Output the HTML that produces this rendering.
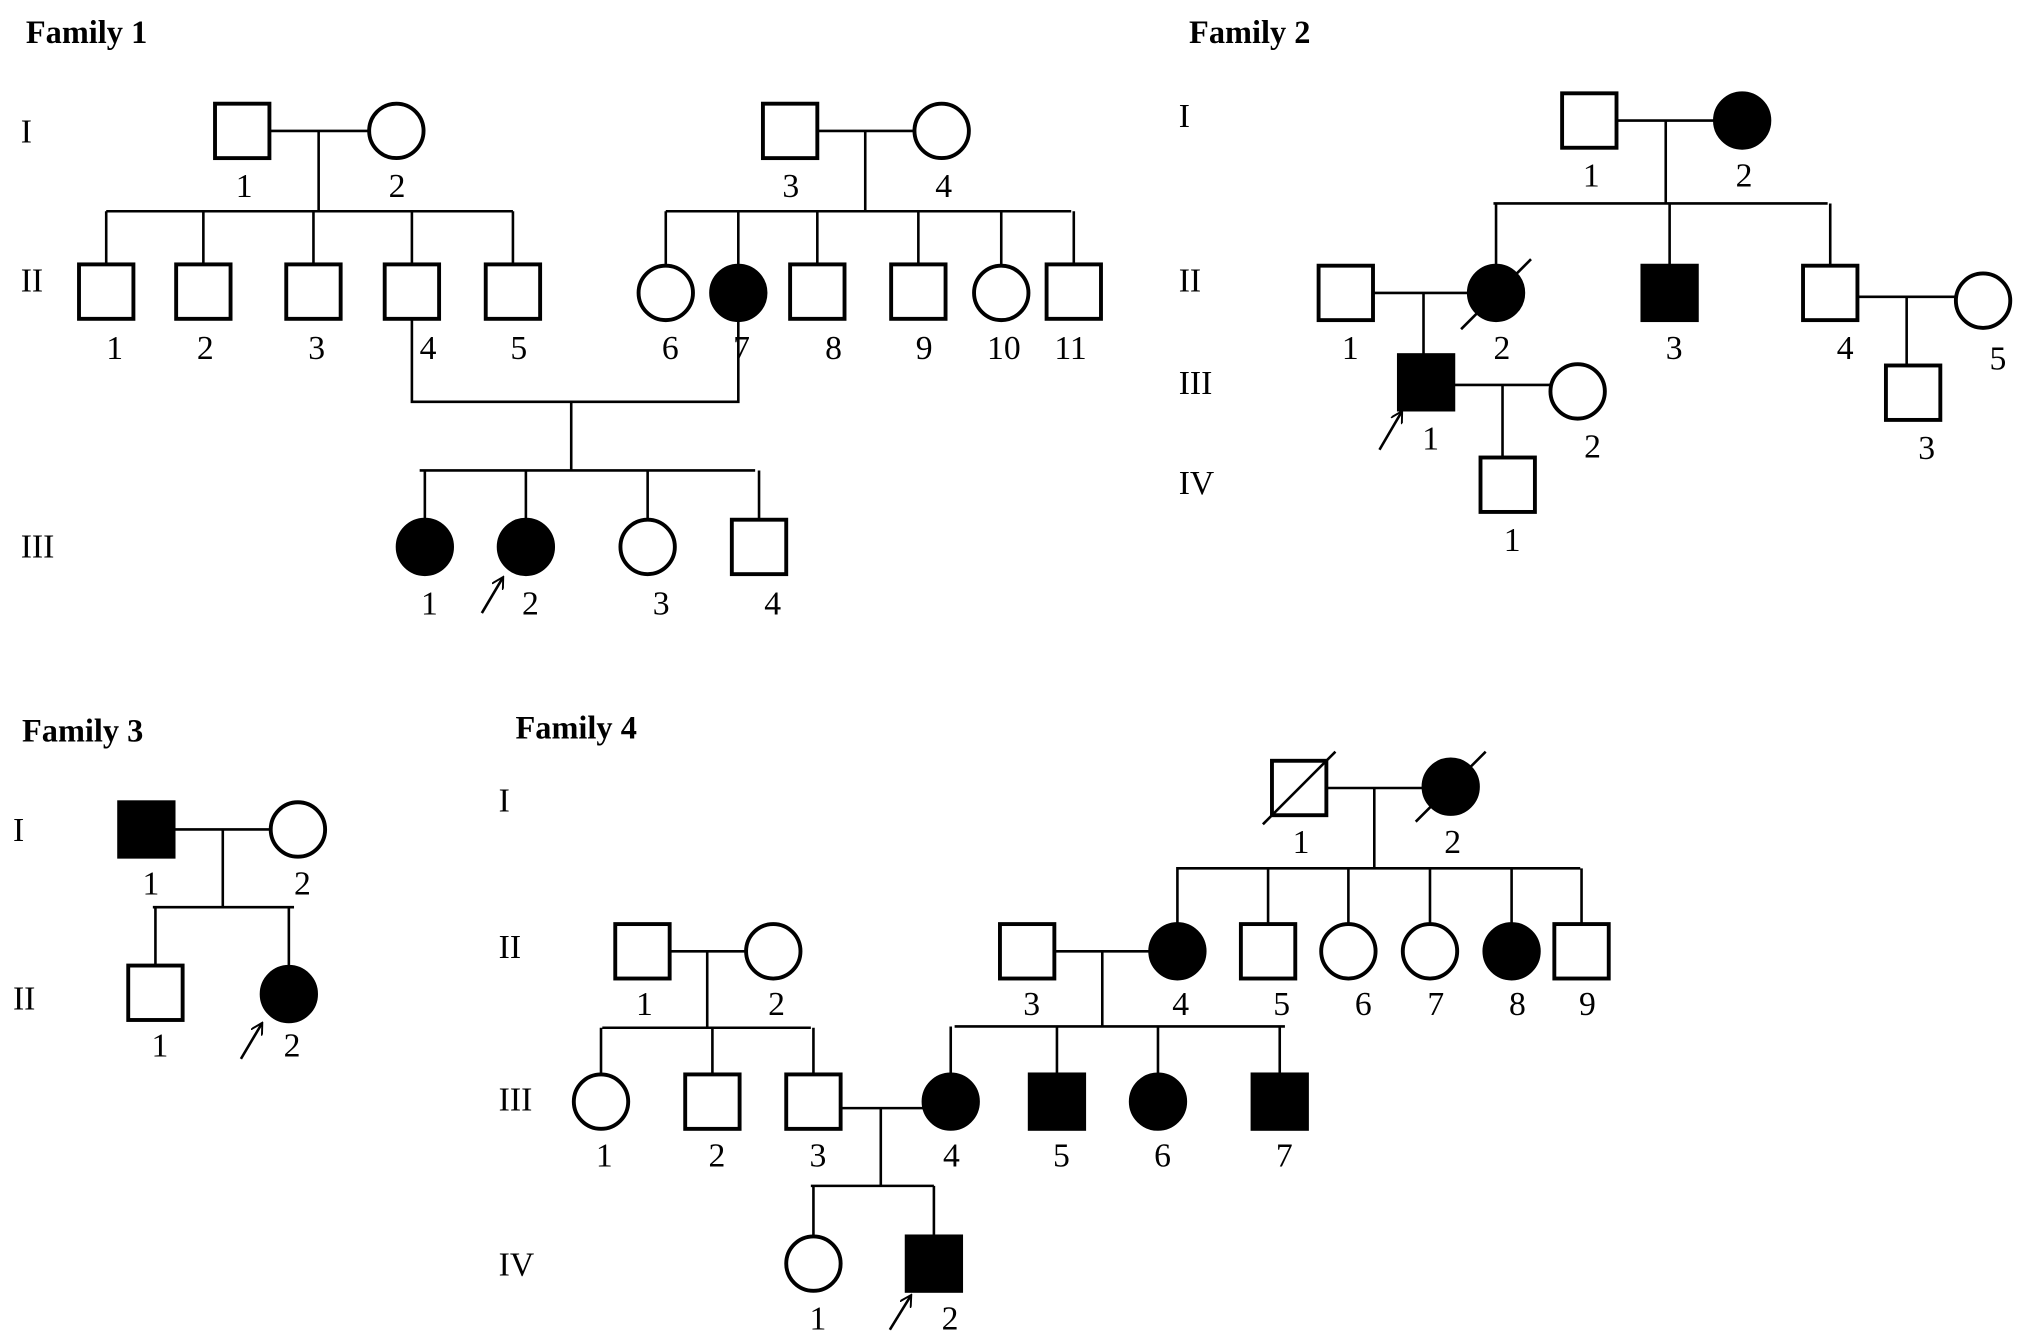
<!DOCTYPE html>
<html><head><meta charset="utf-8"><style>
html,body{margin:0;padding:0;background:#fff}
svg{display:block}
text{font-family:"Liberation Serif",serif;font-size:26px;fill:#000}
.t{font-weight:bold;font-size:25px}
.s{fill:#fff;stroke:#000;stroke-width:3}
.f{fill:#000;stroke:#000;stroke-width:3}
.l{stroke:#000;stroke-width:2;fill:none}
</style></head><body>
<svg width="2031" height="1344" viewBox="0 0 1568 1037" preserveAspectRatio="none" xmlns="http://www.w3.org/2000/svg">
<defs><marker id="a" markerWidth="10" markerHeight="10" refX="8" refY="5" orient="auto" markerUnits="userSpaceOnUse"><path d="M0,0 L9,5 L0,10" fill="none" stroke="#000" stroke-width="1.5"/></marker></defs>

<!-- Family 1 -->
<text class="t" x="20" y="33">Family 1</text>
<text x="16" y="110">I</text><text x="16" y="225">II</text><text x="16" y="430">III</text>
<path class="l" d="M208,101H285 M246,101V163 M82,163H396 M82,163V204 M157,163V204 M242,163V204 M318,163V204 M396,163V204"/>
<rect class="s" x="166" y="80" width="42" height="42"/><circle class="s" cx="306" cy="101" r="21"/>
<text x="182" y="152">1</text><text x="300" y="152">2</text>
<path class="l" d="M631,101H706 M668,101V163 M514,163H827 M514,163V205 M570,163V205 M631,163V204 M709,163V204 M773,163V205 M829,163V204"/>
<rect class="s" x="589" y="80" width="42" height="42"/><circle class="s" cx="727" cy="101" r="21"/>
<text x="604" y="152">3</text><text x="722" y="152">4</text>
<rect class="s" x="61" y="204" width="42" height="42"/><rect class="s" x="136" y="204" width="42" height="42"/>
<rect class="s" x="221" y="204" width="42" height="42"/><rect class="s" x="297" y="204" width="42" height="42"/>
<rect class="s" x="375" y="204" width="42" height="42"/>
<circle class="s" cx="514" cy="226" r="21"/><circle class="f" cx="570" cy="226" r="21"/>
<rect class="s" x="610" y="204" width="42" height="42"/><rect class="s" x="688" y="204" width="42" height="42"/>
<circle class="s" cx="773" cy="226" r="21"/><rect class="s" x="808" y="204" width="42" height="42"/>
<text x="82" y="277">1</text><text x="152" y="277">2</text><text x="238" y="277">3</text><text x="324" y="277">4</text><text x="394" y="277">5</text>
<text x="511" y="277">6</text><text x="566" y="277">7</text><text x="637" y="277">8</text><text x="707" y="277">9</text><text x="762" y="277">10</text><text x="814" y="277">11</text>
<path class="l" d="M318,246V310H570V247 M441,310V363 M324,363H583 M328,363V401 M406,363V401 M500,363V401 M586,363V401"/>
<circle class="f" cx="328" cy="422" r="21"/><circle class="f" cx="406" cy="422" r="21"/>
<circle class="s" cx="500" cy="422" r="21"/><rect class="s" x="565" y="401" width="42" height="42"/>
<text x="325" y="474">1</text><text x="403" y="474">2</text><text x="504" y="474">3</text><text x="590" y="474">4</text>
<line class="l" x1="372" y1="473" x2="388" y2="446" marker-end="url(#a)"/>

<!-- Family 2 -->
<text class="t" x="918" y="33">Family 2</text>
<text x="910" y="98">I</text><text x="910" y="225">II</text><text x="910" y="304">III</text><text x="910" y="381">IV</text>
<path class="l" d="M1248,93H1324 M1286,93V157 M1153,157H1411 M1155,157V205 M1289,157V205 M1413,157V205"/>
<rect class="s" x="1206" y="72" width="42" height="42"/><circle class="f" cx="1345" cy="93" r="21"/>
<text x="1222" y="144">1</text><text x="1340" y="144">2</text>
<path class="l" d="M1060,226H1134 M1099,226V274 M1434,229H1510 M1472,229V281"/>
<rect class="s" x="1018" y="205" width="42" height="42"/><circle class="f" cx="1155" cy="226" r="21"/>
<line class="l" x1="1128" y1="254" x2="1182" y2="200"/>
<rect class="f" x="1268" y="205" width="42" height="42"/><rect class="s" x="1392" y="205" width="42" height="42"/>
<circle class="s" cx="1531" cy="232" r="21"/>
<text x="1036" y="277">1</text><text x="1153" y="277">2</text><text x="1286" y="277">3</text><text x="1418" y="277">4</text><text x="1536" y="285">5</text>
<path class="l" d="M1122,297H1197 M1160,297V353"/>
<rect class="f" x="1080" y="274" width="42" height="42"/><circle class="s" cx="1218" cy="302" r="21"/>
<rect class="s" x="1456" y="282" width="42" height="42"/>
<text x="1098" y="347">1</text><text x="1223" y="353">2</text><text x="1481" y="354">3</text>
<rect class="s" x="1143" y="353" width="42" height="42"/><text x="1161" y="425">1</text>
<line class="l" x1="1065" y1="347" x2="1082" y2="318" marker-end="url(#a)"/>

<!-- Family 3 -->
<text class="t" x="17" y="572">Family 3</text>
<text x="10" y="649">I</text><text x="10" y="779">II</text>
<path class="l" d="M134,640H209 M172,640V700 M118,700H227 M120,700V745 M223,700V746"/>
<rect class="f" x="92" y="619" width="42" height="42"/><circle class="s" cx="230" cy="640" r="21"/>
<text x="110" y="690">1</text><text x="227" y="690">2</text>
<rect class="s" x="99" y="745" width="42" height="42"/><circle class="f" cx="223" cy="767" r="21"/>
<text x="117" y="815">1</text><text x="219" y="815">2</text>
<line class="l" x1="186" y1="817" x2="202" y2="790" marker-end="url(#a)"/>

<!-- Family 4 -->
<text class="t" x="398" y="570">Family 4</text>
<text x="385" y="626">I</text><text x="385" y="739">II</text><text x="385" y="857">III</text><text x="385" y="984">IV</text>
<path class="l" d="M1024,608H1099 M1061,608V670 M908,670H1220 M909,670V713 M979,670V713 M1041,670V713 M1104,670V713 M1167,670V713 M1221,670V713"/>
<rect class="s" x="982" y="587" width="42" height="42"/><line class="l" x1="975" y1="636" x2="1031" y2="580"/>
<circle class="f" cx="1120" cy="607" r="21"/><line class="l" x1="1093" y1="634" x2="1147" y2="580"/>
<text x="998" y="658">1</text><text x="1115" y="658">2</text>
<path class="l" d="M517,734H576 M546,734V793 M465,793H626 M464,793V829 M550,793V829 M628,793V829 M814,734H888 M851,734V792 M737,792H992 M734,792V829 M816,792V829 M894,792V829 M988,792V829"/>
<rect class="s" x="475" y="713" width="42" height="42"/><circle class="s" cx="597" cy="734" r="21"/>
<rect class="s" x="772" y="713" width="42" height="42"/><circle class="f" cx="909" cy="734" r="21"/>
<rect class="s" x="958" y="713" width="42" height="42"/><circle class="s" cx="1041" cy="734" r="21"/>
<circle class="s" cx="1104" cy="734" r="21"/><circle class="f" cx="1167" cy="734" r="21"/>
<rect class="s" x="1200" y="713" width="42" height="42"/>
<text x="491" y="783">1</text><text x="593" y="783">2</text><text x="790" y="783">3</text><text x="905" y="783">4</text><text x="983" y="783">5</text><text x="1046" y="783">6</text><text x="1102" y="783">7</text><text x="1165" y="783">8</text><text x="1219" y="783">9</text>
<circle class="s" cx="464" cy="850" r="21"/><rect class="s" x="529" y="829" width="42" height="42"/>
<rect class="s" x="607" y="829" width="42" height="42"/><circle class="f" cx="734" cy="850" r="21"/>
<rect class="f" x="795" y="829" width="42" height="42"/><circle class="f" cx="894" cy="850" r="21"/>
<rect class="f" x="967" y="829" width="42" height="42"/>
<text x="460" y="900">1</text><text x="547" y="900">2</text><text x="625" y="900">3</text><text x="728" y="900">4</text><text x="813" y="900">5</text><text x="891" y="900">6</text><text x="985" y="900">7</text>
<path class="l" d="M649,855H713 M680,855V915 M626,915H721 M628,915V954 M721,915V954"/>
<circle class="s" cx="628" cy="975" r="21"/><rect class="f" x="700" y="954" width="42" height="42"/>
<text x="625" y="1026">1</text><text x="727" y="1026">2</text>
<line class="l" x1="687" y1="1026" x2="703" y2="1000" marker-end="url(#a)"/>
</svg>
</body></html>
